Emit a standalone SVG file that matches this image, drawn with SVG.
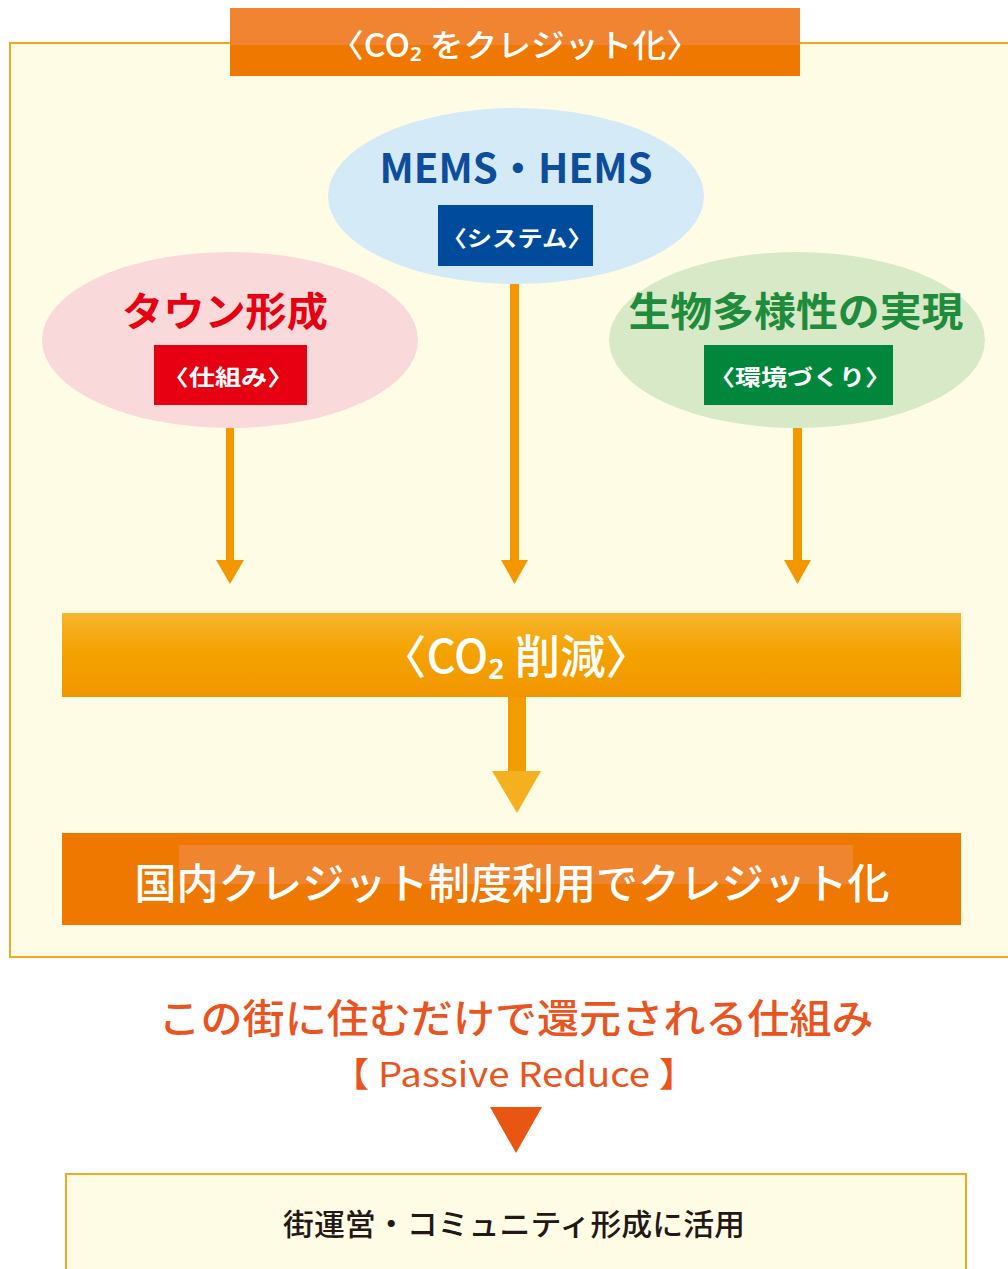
<svg xmlns="http://www.w3.org/2000/svg" width="1008" height="1269" viewBox="0 0 1008 1269">
<defs>
<style>
.jp{font-family:"Noto Sans CJK JP","Noto Sans",sans-serif;}
.w{fill:#ffffff;}
.b{font-weight:bold;}
.m{font-weight:500;}
.arr{fill:#f39800;}
</style>
<linearGradient id="gReduce" x1="0" y1="0" x2="0" y2="1">
<stop offset="0" stop-color="#f8b530"/>
<stop offset="0.45" stop-color="#f4a300"/>
<stop offset="1" stop-color="#f29600"/>
</linearGradient>
</defs>
<rect x="0" y="0" width="1008" height="1269" fill="#ffffff"/>
<g id="frame">
<rect x="10" y="43" width="1010" height="914" fill="#fffce6" stroke="#f5a623" stroke-width="2"/>
</g>
<g id="title">
<rect x="230" y="8" width="570" height="68" fill="#ee7800"/>
<rect x="230" y="8" width="570" height="37" fill="#f08430"/>
<text class="jp w m" x="515" y="57" font-size="32" text-anchor="middle" textLength="370" lengthAdjust="spacingAndGlyphs">〈CO₂ をクレジット化〉</text>
</g>
<g id="connectors">
<rect class="arr" x="226" y="428" width="8" height="132"/>
<polygon class="arr" points="216,560 244,560 230,584"/>
<rect class="arr" x="510" y="284" width="9" height="276"/>
<polygon class="arr" points="501,560 528,560 514.5,584"/>
<rect class="arr" x="793" y="428" width="9" height="132"/>
<polygon class="arr" points="784,560 811,560 797.5,584"/>
<rect x="508" y="697" width="18" height="75" fill="#f29c00"/>
<polygon points="492,771 541,771 517,813" fill="#f5b020"/>
<polygon points="490,1107 542,1107 516,1153" fill="#e95513"/>
</g>
<g id="node-mems">
<ellipse cx="516" cy="196" rx="188" ry="88" fill="#d4eaf7"/>
<text class="jp b" x="516" y="183" font-size="40" fill="#0e4c9c" text-anchor="middle" textLength="273" lengthAdjust="spacingAndGlyphs">MEMS・HEMS</text>
<rect x="438" y="205" width="155" height="61" fill="#004b9c"/>
<text class="jp w b" x="517" y="246" font-size="22" text-anchor="middle" textLength="151" lengthAdjust="spacingAndGlyphs">〈システム〉</text>
</g>
<g id="node-town">
<ellipse cx="230" cy="340" rx="188" ry="88" fill="#f9d9d9"/>
<text class="jp b" x="225" y="326" font-size="40" fill="#e60012" text-anchor="middle" textLength="206" lengthAdjust="spacingAndGlyphs">タウン形成</text>
<rect x="154" y="345" width="153" height="60" fill="#e60012"/>
<text class="jp w b" x="228" y="385" font-size="22" text-anchor="middle" textLength="131" lengthAdjust="spacingAndGlyphs">〈仕組み〉</text>
</g>
<g id="node-bio">
<ellipse cx="797" cy="340" rx="188" ry="88" fill="#d7e9c6"/>
<text class="jp b" x="796" y="326" font-size="40" fill="#1e8c3c" text-anchor="middle" textLength="335" lengthAdjust="spacingAndGlyphs">生物多様性の実現</text>
<rect x="704" y="345" width="189" height="60" fill="#00873c"/>
<text class="jp w b" x="800" y="385" font-size="22" text-anchor="middle" textLength="182" lengthAdjust="spacingAndGlyphs">〈環境づくり〉</text>
</g>
<g id="node-reduce">
<rect x="62" y="613" width="899" height="84" fill="url(#gReduce)"/>
<text class="jp w m" x="516" y="673" font-size="46" text-anchor="middle" textLength="270" lengthAdjust="spacingAndGlyphs">〈CO₂ 削減〉</text>
</g>
<g id="node-credit">
<rect x="62" y="833" width="899" height="92" fill="#ee7800"/>
<rect x="179" y="845" width="674" height="39" fill="#f08530"/>
<text class="jp w m" x="512" y="899" font-size="42" text-anchor="middle" textLength="755" lengthAdjust="spacingAndGlyphs">国内クレジット制度利用でクレジット化</text>
</g>
<g id="caption">
<text class="jp m" x="516" y="1033" font-size="40" fill="#e9541f" text-anchor="middle" textLength="715" lengthAdjust="spacingAndGlyphs">この街に住むだけで還元される仕組み</text>
<text class="jp" x="514" y="1087" font-size="34" fill="#e9541f" text-anchor="middle" textLength="366" lengthAdjust="spacingAndGlyphs">【 Passive Reduce 】</text>
</g>
<g id="node-use">
<rect x="66" y="1174" width="900" height="110" fill="#fffce6" stroke="#f5a623" stroke-width="2"/>
<text class="jp m" x="514" y="1235" font-size="30" fill="#231815" text-anchor="middle" textLength="462" lengthAdjust="spacingAndGlyphs">街運営・コミュニティ形成に活用</text>
</g>
</svg>
